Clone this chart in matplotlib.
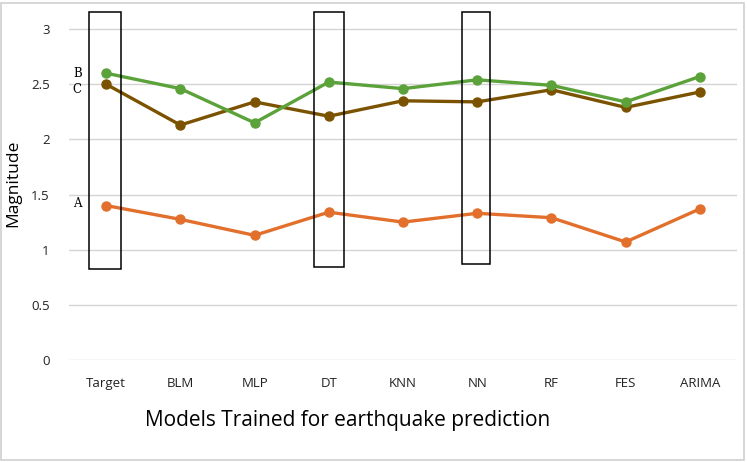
import matplotlib
matplotlib.use("Agg")
import matplotlib.pyplot as plt
from matplotlib.patches import Rectangle

categories = ["Target", "BLM", "MLP", "DT", "KNN", "NN", "RF", "FES", "ARIMA"]
series_B = [2.60, 2.46, 2.15, 2.52, 2.46, 2.54, 2.49, 2.34, 2.57]
series_C = [2.50, 2.13, 2.34, 2.21, 2.35, 2.34, 2.45, 2.29, 2.43]
series_A = [1.40, 1.275, 1.13, 1.34, 1.25, 1.33, 1.29, 1.07, 1.37]
yticks = [0, 0.5, 1, 1.5, 2, 2.5, 3]
yticklabels = ["0", "0.5", "1", "1.5", "2", "2.5", "3"]
# highlight boxes: (category index, left offset, right offset, bottom, top)
boxes = [(0, -0.23, 0.20, 0.825, 3.155),
         (3, -0.20, 0.20, 0.84, 3.155),
         (5, -0.20, 0.17, 0.87, 3.155)]

plt.rcParams['font.family'] = ['Open Sans', 'DejaVu Sans']

fig = plt.figure(figsize=(7.47, 4.62), dpi=100)
fig.patches.append(Rectangle((0.002, 0.004), 0.994, 0.99, transform=fig.transFigure,
                             fill=False, edgecolor="#d0d0d0", linewidth=1.2))
ax = fig.add_axes([0.0924, 0.2208, 0.8942, 0.764])

x = list(range(len(categories)))
ax.plot(x, series_A, color="#E2702C", lw=2.4, marker="o", ms=6.5, zorder=3)
ax.plot(x, series_C, color="#7B5300", lw=2.4, marker="o", ms=6.5, zorder=3)
ax.plot(x, series_B, color="#5CA23A", lw=2.4, marker="o", ms=6.5, zorder=4)

for i, l, r, b, t in boxes:
    ax.add_patch(Rectangle((x[i] + l, b), r - l, t - b, fill=False,
                           edgecolor="black", lw=1.1, zorder=5, clip_on=False))

ax.set_xlim(-0.5, len(categories) - 0.5)
ax.set_ylim(0, 3.2)
ax.set_yticks(yticks)
ax.set_yticklabels(yticklabels)
ax.set_xticks(x)
ax.set_xticklabels(categories)
ax.grid(axis="y", color="#d4d4d4", lw=1.0)
ax.set_axisbelow(True)
for s in ax.spines.values():
    s.set_visible(False)
ax.tick_params(length=0, labelsize=9.5, colors="#222222")
ax.tick_params(axis="y", pad=14)
ax.tick_params(axis="x", pad=12)

ax.text(-0.33, 2.60, "B", family="DejaVu Serif", fontsize=8.5, ha="right", va="center")
ax.text(-0.33, 2.45, "C", family="DejaVu Serif", fontsize=8.5, ha="right", va="center")
ax.text(-0.33, 1.42, "A", family="DejaVu Serif", fontsize=8.5, ha="right", va="center")

ax.set_ylabel("Magnitude", fontsize=12.5, labelpad=7)
fig.text(0.465, 0.09, "Models Trained for earthquake prediction", fontsize=15,
         ha="center", va="center")

fig.savefig("out.png", dpi=100)
